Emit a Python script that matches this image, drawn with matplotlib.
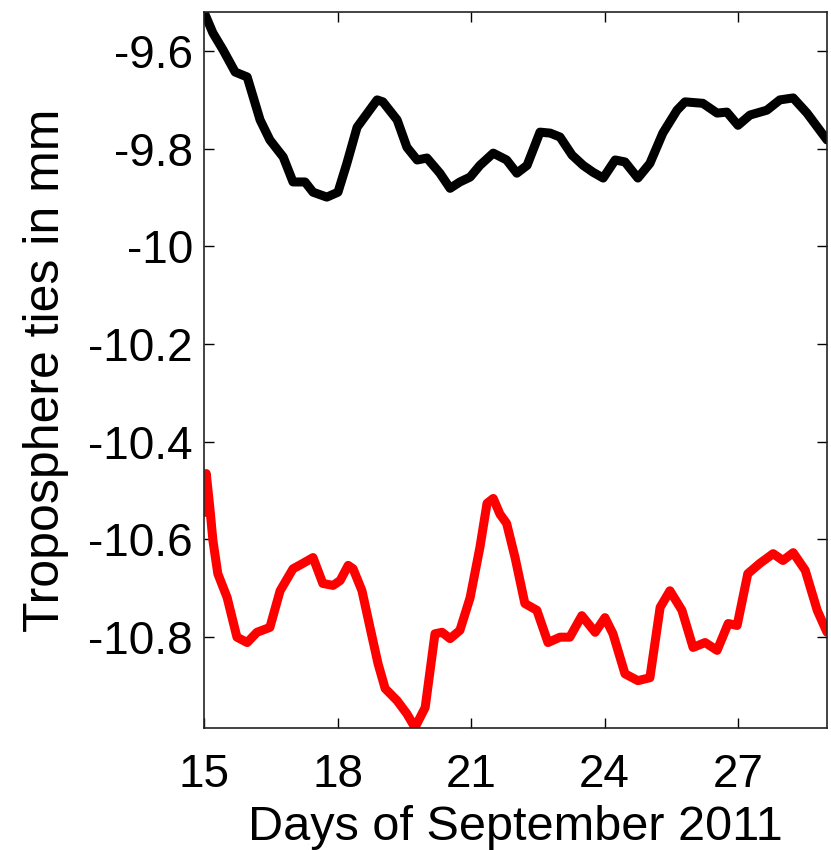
import matplotlib
matplotlib.use("Agg")
import matplotlib.pyplot as plt

# Black series (days, mm)
black_x = [15.0, 15.2, 15.43, 15.7, 15.97, 16.26, 16.48, 16.78, 17.0, 17.27, 17.45, 17.76,
           18.01, 18.21, 18.44, 18.89, 19.02, 19.34, 19.56, 19.79, 20.01, 20.3, 20.53, 20.75,
           20.98, 21.2, 21.5, 21.65, 21.8, 22.03, 22.26, 22.55, 22.78, 23.0, 23.27, 23.52,
           23.74, 23.97, 24.24, 24.46, 24.75, 25.02, 25.31, 25.63, 25.81, 26.21, 26.53, 26.75,
           27.0, 27.27, 27.65, 27.94, 28.24, 28.55, 29.0]
black_y = [-9.52, -9.563, -9.598, -9.643, -9.653, -9.741, -9.782, -9.817, -9.868, -9.868, -9.889, -9.899,
           -9.889, -9.83, -9.756, -9.70, -9.704, -9.741, -9.797, -9.823, -9.819, -9.85, -9.881, -9.868,
           -9.858, -9.834, -9.809, -9.816, -9.823, -9.85, -9.834, -9.766, -9.768, -9.776, -9.813, -9.834,
           -9.848, -9.86, -9.823, -9.827, -9.86, -9.83, -9.768, -9.721, -9.704, -9.707, -9.727, -9.725,
           -9.752, -9.731, -9.721, -9.70, -9.696, -9.727, -9.782]

# Red series (days, mm)
red_x = [15.0, 15.05, 15.13, 15.2, 15.31, 15.52, 15.74, 15.97, 16.19, 16.48, 16.71, 17.0, 17.22,
         17.45, 17.67, 17.9, 18.06, 18.24, 18.35, 18.55, 18.73, 18.91, 19.07, 19.34, 19.56,
         19.74, 19.97, 20.19, 20.35, 20.53, 20.75, 20.98, 21.2, 21.36, 21.5, 21.65, 21.8,
         21.99, 22.21, 22.48, 22.73, 23.0, 23.22, 23.49, 23.79, 24.01, 24.19, 24.46, 24.75,
         25.02, 25.25, 25.47, 25.74, 25.99, 26.26, 26.53, 26.78, 26.98, 27.22, 27.49, 27.79,
         28.01, 28.24, 28.51, 28.78, 29.0]
red_y = [-10.545, -10.465, -10.534, -10.602, -10.67, -10.719, -10.80, -10.811, -10.79, -10.78,
         -10.705, -10.66, -10.649, -10.637, -10.69, -10.694, -10.684, -10.653, -10.66, -10.705,
         -10.78, -10.854, -10.905, -10.93, -10.957, -10.985, -10.944, -10.793, -10.79, -10.803,
         -10.786, -10.719, -10.616, -10.526, -10.516, -10.548, -10.567, -10.637, -10.731, -10.745,
         -10.811, -10.80, -10.80, -10.756, -10.79, -10.76, -10.793, -10.875, -10.889, -10.883,
         -10.739, -10.705, -10.745, -10.821, -10.811, -10.827, -10.772, -10.776, -10.67, -10.649,
         -10.629, -10.643, -10.627, -10.663, -10.745, -10.79]

x_ticks = [15, 18, 21, 24, 27]
y_ticks = [-9.6, -9.8, -10.0, -10.2, -10.4, -10.6, -10.8]
y_tick_labels = ["-9.6", "-9.8", "-10", "-10.2", "-10.4", "-10.6", "-10.8"]

plt.rcParams['font.family'] = ['Liberation Sans', 'DejaVu Sans']

fig = plt.figure(figsize=(8.31, 8.50), dpi=100)
ax = fig.add_axes([0.2455, 0.1435, 0.7497, 0.8424])

ax.plot(black_x, black_y, color='black', lw=6.5, solid_joinstyle='round', solid_capstyle='round')
ax.plot(red_x, red_y, color='#ff0000', lw=6.5, solid_joinstyle='round', solid_capstyle='round')

ax.set_xlim(15, 29)
ax.set_ylim(-10.986, -9.52)
ax.set_xticks(x_ticks)
ax.set_xticklabels([str(t) for t in x_ticks])
ax.set_yticks(y_ticks)
ax.set_yticklabels(y_tick_labels)
ax.tick_params(axis='both', direction='in', length=7, width=1, top=True, right=True,
               labelsize=33, colors='black')
ax.tick_params(axis='x', pad=18)
ax.tick_params(axis='y', pad=8)
for s in ax.spines.values():
    s.set_linewidth(1.2)
    s.set_color('#222222')

ax.set_xlabel("Days of September 2011", fontsize=35, labelpad=6)
ax.set_ylabel("Troposphere ties in mm", fontsize=36, labelpad=14)

fig.savefig("out.png", dpi=100)
